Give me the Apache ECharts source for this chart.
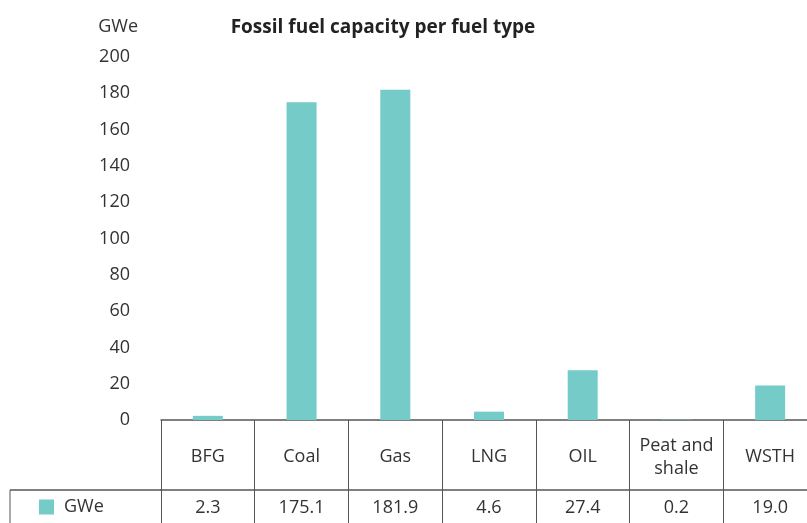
<!DOCTYPE html>
<html>
<head>
<meta charset="utf-8">
<script src="https://cdn.jsdelivr.net/npm/echarts@6/dist/echarts.min.js"></script>
<style>
  html, body { margin: 0; padding: 0; background: #fff; }
  #main { width: 807px; height: 523px; }
</style>
</head>
<body>
<div id="main"></div>
<script>
// data
const fuelTypes = ['BFG', 'Coal', 'Gas', 'LNG', 'OIL', 'Peat and\nshale', 'WSTH'];
const capacity = [2.3, 175.1, 181.9, 4.6, 27.4, 0.2, 19.0];
const seriesName = 'GWe';
const yTicks = { min: 0, max: 200, interval: 20 };

const textColor = '#333333';
const lineColor = '#555555';
const font = '"Open Sans", "Noto Sans", sans-serif';

const chart = echarts.init(document.getElementById('main'));

const option = {
    animation: false,
    textStyle: { fontFamily: font },
    title: {
        text: 'Fossil fuel capacity per fuel type',
        left: 378,
        textAlign: 'center',
        top: 13,
        textStyle: { fontSize: 19, fontWeight: 'bold', color: '#222', fontFamily: font }
    },
    legend: {
        data: [seriesName],
        icon: 'rect',
        itemWidth: 15,
        itemHeight: 15,
        left: 39,
        top: 498,
        padding: 0,
        textStyle: { fontSize: 18, color: textColor, padding: [0, 0, 0, 5] }
    },
    grid: {
        left: 161,
        width: 656,
        top: 57,
        bottom: 103,
        containLabel: false,
        outerBoundsMode: 'none'
    },
    xAxis: [
        {
            type: 'category',
            data: fuelTypes,
            axisLine: { lineStyle: { color: lineColor, width: 1.5 } },
            axisTick: { show: true, length: 70, interval: 0, lineStyle: { color: lineColor } },
            axisLabel: {
                interval: 0,
                margin: 37,
                verticalAlign: 'middle',
                fontSize: 18,
                color: textColor,
                lineHeight: 23
            }
        },
        {
            type: 'category',
            position: 'bottom',
            offset: 70,
            data: capacity.map(v => v.toFixed(1)),
            axisLine: { lineStyle: { color: lineColor, width: 1.5 } },
            axisTick: { show: true, length: 36, interval: 0, lineStyle: { color: lineColor } },
            axisLabel: { interval: 0, margin: 9, fontSize: 18, color: textColor }
        }
    ],
    yAxis: {
        type: 'value',
        min: yTicks.min,
        max: yTicks.max,
        interval: yTicks.interval,
        name: 'GWe',
        nameLocation: 'end',
        nameGap: 30,
        nameTextStyle: { fontSize: 18, color: textColor, align: 'right', verticalAlign: 'middle', padding: [0, 23, 0, 0] },
        axisLine: { show: false },
        axisTick: { show: false },
        splitLine: { show: false },
        axisLabel: { margin: 31, fontSize: 18, color: textColor }
    },
    graphic: [
        {
            type: 'line',
            shape: { x1: 10, y1: 490, x2: 161, y2: 490 },
            style: { stroke: lineColor, lineWidth: 1.5 }
        },
        {
            type: 'line',
            shape: { x1: 10, y1: 490, x2: 10, y2: 523 },
            style: { stroke: lineColor, lineWidth: 1 }
        }
    ],
    series: [
        {
            name: seriesName,
            type: 'bar',
            xAxisIndex: 0,
            barWidth: 30,
            itemStyle: { color: '#75cbc8' },
            data: capacity
        }
    ]
};

chart.setOption(option);
window.addEventListener('resize', function () {
    chart.resize();
});
</script>
</body>
</html>
